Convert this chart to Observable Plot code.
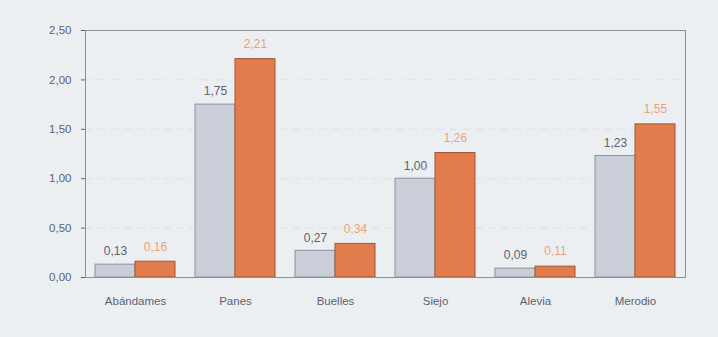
<!DOCTYPE html>
<html><head><meta charset="utf-8">
<script src="https://cdn.jsdelivr.net/npm/d3@7"></script>
<script src="https://cdn.jsdelivr.net/npm/@observablehq/plot@0.6"></script>
<style>
body{margin:0;background:#ebeff2;}
#chart svg{display:block;background:#ebeff2;}
</style></head>
<body><div id="chart"></div>
<script>
const categories = ["Abándames","Panes","Buelles","Siejo","Alevia","Merodio"];
const seriesA = [0.13,1.75,0.27,1.00,0.09,1.23];
const seriesB = [0.16,2.21,0.34,1.26,0.11,1.55];
const yTicks = [0,0.5,1,1.5,2,2.5];

const rows = categories.map((c,i)=>({cat:c,a:seriesA[i],b:seriesB[i]}));
const fmt = v => d3.format(".2f")(v).replace(".", ",");

const chart = Plot.plot({
  width: 718, height: 337,
  marginLeft: 85, marginRight: 33, marginTop: 30, marginBottom: 60,
  style: {background:"#ebeff2", fontFamily:"'Liberation Sans', Arial, sans-serif", fontSize:"11.5px", color:"#5d6272"},
  x: {domain: categories, padding: 0, label: null, tickSize: 0, tickPadding: 19},
  y: {domain: [0,2.5], ticks: yTicks, tickFormat: fmt, label: null, tickSize: 4, tickPadding: 10},
  marks: [
    Plot.ruleY([0.5,1,1.5,2], {stroke:"#dde1e5", strokeDasharray:"8,5"}),
    Plot.barY(rows, {x:"cat", y:"a", fill:"#c9ced8", stroke:"#8d9098", strokeWidth:1, insetLeft:10, insetRight:50}),
    Plot.barY(rows, {x:"cat", y:"b", fill:"#e27c4c", stroke:"#a0563a", strokeWidth:1, insetLeft:50, insetRight:10}),
    Plot.text(rows, {x:"cat", y:"a", text:d=>fmt(d.a), dx:-20, dy:-13, fill:"#5d6272", fontSize:12}),
    Plot.text(rows, {x:"cat", y:"b", text:d=>fmt(d.b), dx:20, dy:-15, fill:"#eda276", fontSize:12}),
    Plot.ruleY([0], {stroke:"#8d9098"}),
    Plot.frame({stroke:"#8d9098"})
  ]
});
document.getElementById("chart").appendChild(chart);
</script></body></html>
